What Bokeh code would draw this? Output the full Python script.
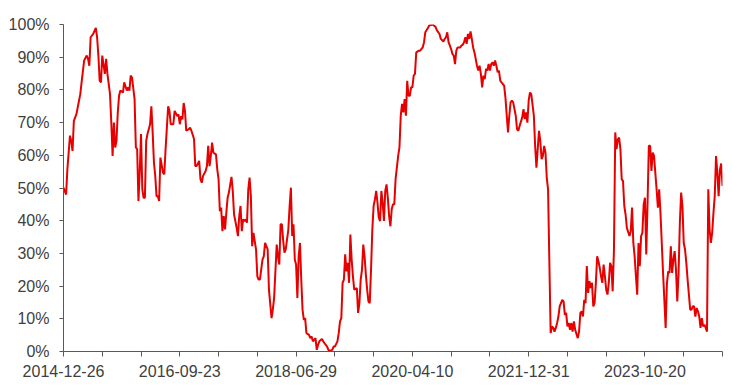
from bokeh.plotting import figure
from bokeh.models import Range1d, FixedTicker
from bokeh.embed import file_html
from bokeh.resources import INLINE

# week index (position in the weekly category axis) and value in percent
week = [0, 2, 3, 5, 6, 7, 8, 10, 12, 13, 14, 16, 18, 19, 20, 21, 23, 25, 26, 27, 28, 29, 30, 32, 33, 34, 36, 37, 38, 39,
        40, 41, 42, 43, 44, 46, 47, 49, 50, 51, 52, 53, 55, 56, 57, 58, 59, 60, 61, 62, 63, 64, 65, 67, 68, 69, 70, 71, 72, 73,
        74, 75, 77, 78, 79, 81, 82, 83, 85,
        86, 88, 89, 90, 91, 92, 93, 94, 95, 97, 98, 99, 101, 102, 103, 105, 106, 107, 108, 110, 111, 112, 113, 114, 115, 116,
        118, 119, 120, 121, 122, 123, 124, 125, 126, 127, 128, 130, 131, 132, 134, 135, 136, 137, 138, 139, 140, 141, 142, 143,
        144, 145, 146, 147, 149, 150, 151, 152, 154, 155, 156, 157, 158, 159, 161, 162, 163, 165, 166, 167, 168, 169, 170, 171,
        172, 174, 175, 176, 177, 178, 179, 180, 181, 182, 183, 184, 185, 186, 187, 188, 190, 191, 192, 193, 195, 196, 197, 198,
        200, 201, 203, 204, 205, 206, 208, 209, 210, 212, 213, 214, 215, 216, 217, 218, 219, 220, 221, 222, 223, 224, 225, 227,
        228, 229, 230, 231, 232, 233, 234, 235, 236, 237, 238, 239, 240, 241, 242, 243, 244, 245, 246, 247, 248, 249, 250, 251,
        252, 253, 254, 255, 256,
        257, 259, 260, 261, 262, 263, 264, 265, 266, 267, 268, 269, 270, 271, 272, 273, 275, 276, 278, 279, 280, 282, 283, 285,
        286, 288, 289, 291, 292, 294, 295, 296, 297, 298, 300, 301, 302, 303, 304, 305, 307, 308, 309, 310, 311, 312, 313, 314,
        315, 316, 317, 318, 319, 320, 321, 322, 323, 324, 325, 326, 327, 328, 329, 330, 331, 332, 333, 334, 335, 336, 337, 338,
        339, 341, 342,
        344, 345, 346, 347, 348, 350, 351, 352, 353, 355, 356, 357, 358, 359, 360, 361, 362, 364, 365, 366, 367, 368, 369, 370,
        371, 372, 373, 374, 375, 377, 378, 379, 380, 381, 382, 383, 384, 386, 387, 388, 389, 390, 391, 392, 393, 394, 395, 396,
        398, 399, 400, 401, 402, 403, 404, 405, 406, 407, 408, 409, 410, 411, 412, 413, 414, 415, 416, 417, 418, 419, 420, 421,
        422, 423, 424, 425, 426,
        427, 428, 429, 430, 431, 432, 433, 434, 435, 436, 438, 439, 440, 441, 442, 443, 444, 445, 446, 447, 448, 449, 450, 451,
        452, 453, 454, 455, 456, 457, 458, 459, 460, 461, 462, 463, 464, 465, 466, 467, 468, 469, 470, 471, 472, 473, 474, 475,
        476, 477, 478, 479, 480, 481, 482, 483, 484, 485, 486, 487, 488, 489, 490, 491, 492, 493, 494, 495, 496, 497, 498, 499,
        500, 501, 502, 503, 504, 505, 506, 507, 508, 509, 510]

share = [50.1, 48, 55.7, 66, 64.4, 61.3, 70.5, 72.6, 76.7, 78.7, 82.3, 89, 90.5, 89.5, 87.4, 96.1, 97.1, 99, 96.1, 90.5, 82.8, 82.3, 90.5, 84.9, 89.5, 84.9, 78.7, 70, 59.8, 70,
         62.4, 64.4, 73.1, 78.2, 79.8, 79.2, 82.3, 79.8, 80.8, 79.8, 84.4, 83.8, 77.2, 62.4, 61.9, 46, 54.7, 66.5, 49.6, 47, 47, 64.4, 66.5, 69.5, 75, 67, 57.8, 53.7, 47.5, 47.5,
         46, 59.3, 54.7, 54.2, 61.9, 75, 73.6, 69.5, 69.5,
         73.6, 72, 72.5, 69.5, 72, 71, 76, 73.6, 67.5, 68, 68.5, 67.5, 65, 56.7, 56.7, 58.3, 52.7, 51.6, 53.7, 55.2, 56.7, 62.9, 56.7, 59.8, 63.9, 60.8,
         60.3, 55.7, 52.7, 42.9, 44, 36.8, 41.4, 37.3, 42.4, 47, 48.6, 53.4, 49.1, 41.9, 37.8, 35.3, 41.4, 44.5, 36.8, 40.4, 39.9, 40.4, 39.4, 49.6,
         53.2, 47.5, 32.2, 36.3, 31.2, 23, 22, 22, 28.1, 29.1, 33.2, 32.2, 31.2, 18.9, 10.2, 12.8, 16.4, 32.7, 29.1, 26.6, 38.9, 38.9, 34, 30.2,
         31.2, 37.3, 44.5, 50.1, 35.3, 38.9, 28.1, 26.6, 16.4, 29.1, 33.2, 22, 12.8, 9.7, 10.2, 5.6, 5.1, 4.1, 4.6, 3.1, 4.1, 0.5, 2, 3.1,
         3.8, 3.1, 2, 1.5, 0.5, 0.2, 0.5, 1.5, 1.5, 3.1, 5.6, 9.2, 10.2, 21, 22, 29.7, 24.5, 27.1, 21, 35.8, 28.1, 23, 18.9, 19.4,
         11.8, 14.8, 22, 25, 32.7, 29.1, 23.5, 18.9, 15.3, 14.8, 25, 37.3, 44.5, 46.5, 49.1, 45.5, 40.9, 39.9, 49.1, 45.5, 39.9, 49.1, 51.1, 47,
         41.4, 38.3, 43.5, 45, 45,
         52.7, 59.8, 62.4, 72.1, 75.7, 73.1, 77.2, 72.1, 82.8, 78.2, 78.2, 80.8, 80.8, 84.4, 84.9, 91.5, 92, 92, 93, 94.6, 97.6, 98.9, 99.7, 99.9,
         99.9, 99.2, 98.2, 97.1, 95.6, 94.8, 95.6, 96.1, 97.6, 94.6, 92.5, 91, 90.5, 87.9, 92, 93, 93, 93.6, 93.8, 94.6, 96.1, 94.1, 97.1, 95.6,
         97.9, 95.6, 93, 91.5, 89.5, 87.4, 85.9, 87.4, 84.9, 80.8, 84.4, 83.3, 86.4, 85.9, 87.9, 85.9, 87.9, 88.4, 87.4, 89, 87.4, 85.4, 85.9, 82.8,
         82.3, 81.3, 77.7,
         67, 72.1, 76.2, 76.7, 76.2, 72.1, 68, 67.5, 69, 71.6, 74.1, 71.1, 73.1, 70, 76.7, 79.2, 78.7, 72.1, 62.9, 56.2, 61.9, 67.5, 64.4, 58.8,
         59.8, 62.9, 60.8, 53.2, 49.6, 5.6, 7.7, 7.2, 6.1, 7.2, 8.7, 10.7, 13.8, 15.8, 15.3, 11.2, 11.8, 7.7, 8.7, 6.6, 8.7, 6.1, 9.2, 6.6,
         4.1, 6.1, 11.8, 12.3, 10.7, 15.8, 14.8, 26.1, 17.9, 21.5, 19.4, 21, 13.8, 14.8, 21, 29.1, 27.6, 25.6, 23, 21, 26.6, 23, 18.9, 17.4,
         21, 27.1, 26.1, 18.4, 31.2,
         67, 61.9, 64.9, 65.4, 61.9, 52.7, 52.1, 44.5, 41.9, 37.8, 35.3, 36.8, 44, 33.2, 29.1, 23, 17.4, 33.2, 26.1, 35.3, 36.3, 45, 47, 29.7,
         45.5, 62.9, 62.9, 55.2, 60.8, 59.8, 54.7, 49.6, 44, 49.6, 42.4, 33.2, 24, 15.8, 7.2, 21, 24.5, 24, 32.2, 24, 28.1, 30.7, 25, 15.3,
         24, 39.4, 48.6, 44.5, 33.2, 31.2, 27.1, 22, 17.4, 12.8, 12.8, 13.8, 13.8, 10.7, 13.3, 12.3, 10.7, 7.2, 10.2, 7.7, 8.2, 7.2, 6.1, 49.6,
         37.3, 33.2, 36.3, 42.4, 47.5, 59.8, 54.7, 47.5, 55.5, 57.5, 50.6]

tick_labels = ["2014-12-26", "2016-09-23", "2018-06-29", "2020-04-10", "2021-12-31", "2023-10-20"]
label_every = 90      # categories between labelled ticks
tick_every = 30       # categories between tick marks
last_week = 510
y_ticks = list(range(0, 101, 10))

FONT = "Liberation Sans"
TEXT = "#404040"
AXIS = "#595959"

p = figure(width=732, height=387, output_backend="svg", toolbar_location=None,
           x_range=Range1d(0, last_week), y_range=Range1d(0, 100),
           min_border_left=63, min_border_right=10, min_border_top=24, min_border_bottom=36)
p.outline_line_color = None
p.xgrid.visible = False
p.ygrid.visible = False

p.line(week, share, line_color="#E60000", line_width=2)

x_ticks = list(range(0, last_week + 1, tick_every))
p.xaxis.ticker = FixedTicker(ticks=x_ticks)
overrides = {t: "" for t in x_ticks}
for k, lab in enumerate(tick_labels):
    overrides[k * label_every] = lab
p.xaxis.major_label_overrides = overrides

p.yaxis.ticker = FixedTicker(ticks=y_ticks)
p.yaxis.major_label_overrides = {v: f"{v}%" for v in y_ticks}

for ax in (p.xaxis[0], p.yaxis[0]):
    ax.axis_line_color = AXIS
    ax.axis_line_width = 1
    ax.major_tick_line_color = AXIS
    ax.minor_tick_line_color = None
    ax.major_tick_in = 0
    ax.major_label_text_font = FONT
    ax.major_label_text_font_size = "16px"
    ax.major_label_text_color = TEXT

p.xaxis.major_tick_out = 5
p.xaxis.major_label_standoff = 8
p.yaxis.major_tick_out = 4
p.yaxis.major_label_standoff = 10

open("out.html", "w").write(file_html(p, INLINE))
